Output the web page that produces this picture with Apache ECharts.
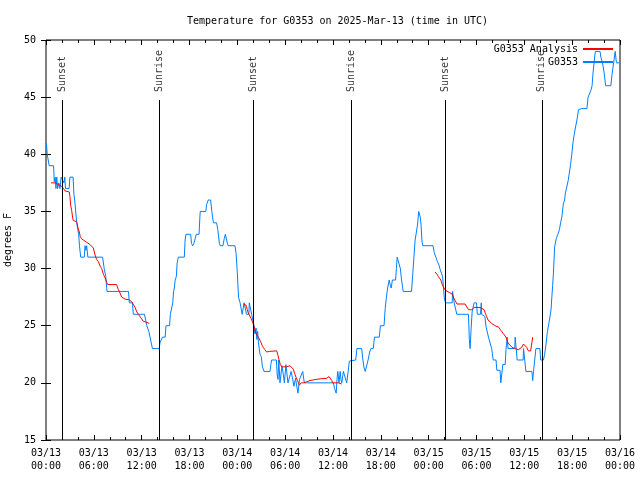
<!DOCTYPE html>
<html><head><meta charset="utf-8">
<script src="https://cdn.jsdelivr.net/npm/echarts@6/dist/echarts.min.js"></script>
<style>html,body{margin:0;padding:0;background:#fff}#c{width:640px;height:480px}</style>
</head><body><div id="c"></div>
<script>
// x values are hours since 2025-03-13 00:00 UTC
const xTickLabels = ['03/13\n00:00','03/13\n06:00','03/13\n12:00','03/13\n18:00','03/14\n00:00','03/14\n06:00','03/14\n12:00','03/14\n18:00','03/15\n00:00','03/15\n06:00','03/15\n12:00','03/15\n18:00','03/16\n00:00'];
const sunTimes = [2.0, 14.2, 26.0, 38.25, 50.05, 62.2];
const sunLabels = ['Sunset','Sunrise','Sunset','Sunrise','Sunset','Sunrise'];

const obsDay1 = [[0.05,41],[0.15,40],[0.4,39],[0.95,39],[1.04,37.6],[1.15,38],[1.25,37],[1.35,38],[1.45,37],[1.6,37.5],[1.75,37],[1.9,38],[2.1,38],[2.25,37.5],[2.35,38],[2.45,37],[2.9,37],[3.0,38],[3.4,38],[3.5,36.5],[3.6,36],[3.75,36],[3.85,34],[3.95,34],[4.1,33],[4.2,32],[4.35,31],[4.8,31],[4.9,32],[5.0,31.6],[5.1,32],[5.25,31],[7.1,31],[7.3,30],[7.5,29.3],[7.65,28],[10.35,28],[10.45,27],[10.85,27],[10.95,26],[12.35,26],[12.5,25.5],[12.65,25],[12.9,24.5],[13.05,24],[13.2,23.5],[13.35,23],[14.2,23]];
const obsDay2 = [[14.3,23.5],[14.5,23.6],[14.6,24],[14.95,24],[15.05,25],[15.5,25],[15.6,26],[15.8,26],[15.9,27],[16.0,28],[16.1,28.3],[16.2,29],[16.35,29.3],[16.45,30.5],[16.6,31],[17.35,31],[17.45,32.5],[17.55,33],[18.15,33],[18.25,32.2],[18.4,32],[18.55,32.2],[18.7,32.6],[18.85,33],[19.2,33],[19.3,34.5],[19.35,35],[20.05,35],[20.15,35.6],[20.35,36],[20.65,36],[20.8,35],[21.0,34],[21.4,34],[21.55,33.4],[21.75,32.2],[21.85,32],[22.2,32],[22.35,32.6],[22.5,33],[22.6,33],[22.75,32.2],[22.85,32],[23.7,32],[23.85,31.3],[24.0,29.6],[24.15,27.5],[24.35,27],[24.6,26],[24.85,27],[25.1,27],[25.15,26],[25.45,26],[25.5,27],[25.75,27],[25.8,26],[26.0,26],[26.1,25],[26.2,24.3],[26.35,24.8],[26.45,23.8],[26.55,24.5],[26.65,23.5],[26.85,22.5],[27.0,22.3],[27.15,21.4],[27.35,21],[28.1,21],[28.2,21.6],[28.3,22],[28.9,22],[29.0,20.7],[29.1,20.3],[29.2,22],[29.35,20],[29.5,20],[29.6,21.5],[29.75,20.8],[29.9,20],[30.1,21.6],[30.2,21.6],[30.35,20],[30.55,20.5],[30.75,21],[30.95,20.3],[31.1,19.7],[31.3,20.4],[31.5,20.3],[31.6,19.1],[31.75,19.1],[31.8,20.3],[32.05,20.2],[32.2,21],[32.4,20],[32.7,20],[36.05,20],[36.2,19.5],[36.4,19.1],[36.5,20.3],[36.6,21],[36.75,20],[36.9,21],[37.0,20.3],[37.1,20],[37.3,21],[37.55,21],[37.72,20],[37.9,21],[38.05,21.9],[38.15,22],[38.85,22],[39.0,23]];
const obsDay3 = [[39.6,23],[39.75,22],[39.9,21.3],[40.05,21],[40.2,21],[40.4,22],[40.6,22.7],[40.75,23],[41.05,23],[41.2,24],[41.8,24],[41.95,25],[42.4,25],[42.55,26.5],[42.7,27.5],[42.85,28.3],[43.05,29],[43.2,28.5],[43.3,28.3],[43.45,29],[43.85,29],[43.95,30],[44.05,31],[44.3,31],[44.45,30],[44.6,29],[44.8,28],[45.85,28],[46.0,29.5],[46.15,31],[46.3,32.5],[46.5,32.5],[46.6,33.8],[46.75,35],[46.85,35],[46.95,34.5],[47.05,33.8],[47.15,32.5],[47.25,32],[48.55,32],[48.7,31.4],[48.9,31],[49.1,30.6],[49.3,30.3],[49.45,29.9],[49.6,29.6],[49.75,29.3],[49.85,28.4],[49.95,27.5],[50.1,27],[50.95,27],[51.0,28],[51.1,28],[51.2,27],[51.45,27],[51.53,26],[52.99,26],[53.1,23.8],[53.2,23],[53.32,24.7],[53.45,26.2],[53.6,26.2],[53.7,27],[54.0,27],[54.1,26],[54.5,26],[54.6,27],[54.65,26],[54.9,26],[55.05,25.8],[55.2,24.9],[55.5,24],[55.7,24],[55.9,23],[56.1,22],[56.45,22],[56.55,21.1],[56.95,21.1],[57.05,20],[57.16,20],[57.3,21.6],[57.6,21.6],[57.7,22.9],[57.85,24],[57.95,23],[58.8,23],[58.85,24],[59.0,24],[59.1,22],[59.85,22],[59.9,23],[60.1,23],[60.2,21],[60.95,21],[61.05,20.2],[61.15,21],[61.3,21],[61.45,23],[61.95,23],[62.05,22],[62.4,22],[62.55,22.5],[62.72,23.4],[62.9,24.5],[63.15,25.5],[63.35,26.4],[63.45,27.5],[63.55,28.5],[63.65,29.6],[63.8,31.9],[64.0,32.6],[64.2,33],[64.4,33.4],[64.55,34],[64.7,34.5],[64.9,35.7],[65.05,36],[65.15,36.6],[65.5,37.7],[65.8,39.1],[65.95,40],[66.1,41],[66.25,41.7],[66.4,42.3],[66.6,43],[66.8,43.9],[67.2,44],[67.85,44],[68.0,45],[68.2,45],[68.35,45.6],[68.5,46],[68.6,47],[68.75,48],[68.9,49],[69.5,49],[69.6,48.5],[69.8,48],[70.0,47.2],[70.2,46],[70.85,46],[71.0,47],[71.2,48],[71.4,49],[71.55,48],[71.95,48]];

const anaDay1 = [[0.63,37.5],[1.13,37.5],[1.3,37.4],[1.97,37.2],[2.2,37],[2.38,36.8],[2.6,36.7],[2.93,36.7],[3.0,36.3],[3.1,35.5],[3.22,35.1],[3.35,34.4],[3.43,34.2],[3.85,34.1],[4.0,33.6],[4.18,33.2],[4.3,32.8],[4.47,32.6],[5.1,32.3],[5.3,32.2],[5.52,32.1],[5.94,31.8],[6.15,31.2],[6.35,30.8],[6.57,30.6],[6.8,30.2],[6.98,30.0],[7.2,29.5],[7.4,29.2],[7.6,28.8],[7.73,28.6],[8.86,28.6],[9.05,28.2],[9.2,28.0],[9.49,27.5],[10.0,27.3],[10.33,27.3],[10.75,27.1],[11.0,26.8],[11.17,26.6],[11.4,26.2],[11.58,26.0],[12.0,25.6],[12.2,25.4],[12.42,25.3],[12.96,25.2]];
const anaDay2 = [[24.75,26.9],[25.09,26.8],[25.25,26.4],[25.38,26.1],[25.72,25.65],[25.97,25.2],[26.1,24.9],[26.22,24.6],[26.4,24.2],[26.64,24.0],[26.93,23.6],[27.1,23.3],[27.26,23.1],[27.45,22.9],[27.68,22.7],[28.0,22.75],[28.94,22.8],[29.1,22.4],[29.27,21.9],[29.4,21.6],[29.56,21.4],[30.19,21.4],[30.6,21.5],[30.85,21.5],[31.02,21.2],[31.2,20.8],[31.36,20.5],[31.55,20.2],[31.78,19.8],[32.0,20.0],[32.28,20.0],[32.7,20.1],[33.12,20.2],[33.87,20.3],[34.38,20.35],[35.21,20.4],[35.5,20.55],[35.71,20.65],[35.85,20.2],[35.96,20.0],[36.67,20.0],[37.09,19.9]];
const anaDay3 = [[48.8,29.7],[49.05,29.5],[49.22,29.3],[49.52,29.0],[49.7,28.6],[49.85,28.4],[50.1,28.1],[50.27,28.1],[50.6,27.9],[50.9,27.8],[51.1,27.5],[51.32,27.2],[51.55,26.9],[52.57,26.9],[52.8,26.8],[53.0,26.4],[53.11,26.3],[53.41,26.4],[53.7,26.6],[54.45,26.6],[54.7,26.5],[54.95,26.4],[55.1,26.1],[55.27,25.8],[55.45,25.5],[55.61,25.4],[55.9,25.2],[56.11,25.1],[56.45,24.95],[56.74,24.9],[57.05,24.6],[57.37,24.3],[57.7,24.0],[57.95,23.5],[58.2,23.3],[58.45,23.1],[58.62,23.0],[59.25,22.9],[59.45,23.0],[59.67,23.1],[59.9,23.4],[60.09,23.4],[60.3,23.1],[60.5,22.8],[60.8,22.8],[60.9,23.3],[61.05,24.0]];

const FONT = '"DejaVu Sans Mono", "Liberation Mono", monospace';
const txt = {fontFamily: FONT, fontSize: 10, color: '#000'};

const obsData = obsDay1.concat(obsDay2, obsDay3);
const anaData = anaDay1.concat([[18, null]], anaDay2, [[43, null]], anaDay3);

const tickCommon = {inside: true, length: 5, lineStyle: {color: '#000', width: 1}};
const minorCommon = {show: true, splitNumber: 3, length: 3, lineStyle: {color: '#000', width: 1}};

const chart = echarts.init(document.getElementById('c'));
chart.setOption({
  animation: false,
  backgroundColor: '#fff',
  title: {text: 'Temperature for G0353 on 2025-Mar-13 (time in UTC)', left: 182, top: 11,
    textStyle: Object.assign({fontWeight: 'normal'}, txt)},
  grid: {left: 46, right: 20, top: 40, bottom: 40, show: true, borderColor: '#000', borderWidth: 1,
    containLabel: false, outerBoundsMode: 'none'},
  xAxis: [
    {type: 'value', min: 0, max: 72, interval: 6, axisLine: {show: false},
     axisTick: tickCommon, minorTick: minorCommon, splitLine: {show: false},
     axisLabel: Object.assign({formatter: v => xTickLabels[Math.round(v / 6)], lineHeight: 13, margin: 7}, txt)},
    {type: 'value', position: 'top', min: 0, max: 72, interval: 6, axisLine: {show: false},
     axisTick: tickCommon, minorTick: minorCommon, splitLine: {show: false}, axisLabel: {show: false}}
  ],
  yAxis: [
    {type: 'value', min: 15, max: 50, interval: 5, name: 'degrees F', nameLocation: 'middle', nameGap: 31,
     nameTextStyle: txt, axisLine: {show: false}, axisTick: tickCommon, splitLine: {show: false},
     axisLabel: Object.assign({margin: 10}, txt)},
    {type: 'value', position: 'right', min: 15, max: 50, interval: 5, axisLine: {show: false},
     axisTick: tickCommon, splitLine: {show: false}, axisLabel: {show: false}}
  ],
  legend: [
    {data: ['G0353 Analysis'], right: 27, top: 44, align: 'right', icon: 'rect', itemWidth: 30, itemHeight: 2,
     padding: 0, selectedMode: false, textStyle: txt},
    {data: ['G0353'], right: 27, top: 57, align: 'right', icon: 'rect', itemWidth: 30, itemHeight: 2,
     padding: 0, selectedMode: false, textStyle: txt}
  ],
  series: [
    {type: 'scatter', name: 'sun', symbolSize: 0, silent: true, z: 1,
     data: sunTimes.map((t, i) => ({value: [t, 45.45], label: {formatter: sunLabels[i]}})),
     label: Object.assign({show: true, position: [0, 0], rotate: 90, align: 'left', verticalAlign: 'middle'}, txt),
     markLine: {silent: true, symbol: ['none', 'none'], label: {show: false},
       lineStyle: {color: '#000', width: 1, type: 'solid'},
       data: sunTimes.map(t => [{coord: [t, 15]}, {coord: [t, 44.75]}])}},
    {type: 'line', name: 'G0353', data: obsData, showSymbol: false, z: 3,
     lineStyle: {color: '#0080ff', width: 1}, itemStyle: {color: '#0080ff'}},
    {type: 'line', name: 'G0353 Analysis', data: anaData, showSymbol: false, connectNulls: false, z: 4,
     lineStyle: {color: '#ff0000', width: 1}, itemStyle: {color: '#ff0000'}}
  ]
});
</script></body></html>
